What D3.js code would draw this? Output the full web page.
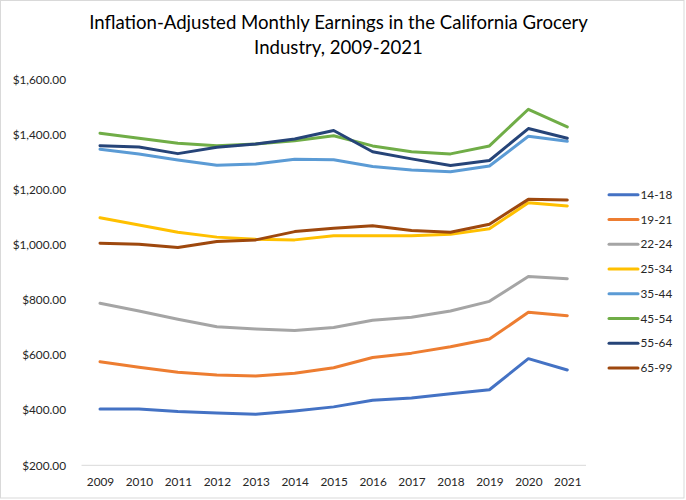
<!DOCTYPE html>
<html><head><meta charset="utf-8">
<script src="https://cdn.jsdelivr.net/npm/d3@7"></script>
<style>body{margin:0;background:#fff}svg{display:block}</style>
</head><body>
<script>
const years = [2009,2010,2011,2012,2013,2014,2015,2016,2017,2018,2019,2020,2021];
const seriesNames = ["14-18","19-21","22-24","25-34","35-44","45-54","55-64","65-99"];
const s14_18 = [404,404,395,390,385,397,412,436,444,460,474,587,546];
const s19_21 = [576,556,538,528,524,534,554,591,607,630,658,755,743];
const s22_24 = [788,760,730,703,695,689,700,726,737,760,795,885,877];
const s25_34 = [1098,1072,1046,1028,1020,1018,1033,1033,1033,1038,1058,1153,1141];
const s35_44 = [1347,1330,1308,1289,1293,1311,1309,1284,1272,1265,1286,1394,1376];
const s45_54 = [1405,1387,1369,1360,1366,1378,1396,1359,1338,1330,1359,1492,1428];
const s55_64 = [1360,1355,1331,1354,1366,1384,1415,1338,1312,1288,1306,1422,1387];
const s65_99 = [1006,1002,990,1012,1018,1048,1060,1069,1052,1046,1075,1165,1163];
const yTicks = [200,400,600,800,1000,1200,1400,1600];
const colors = ["#4472C4","#ED7D31","#A5A5A5","#FFC000","#5B9BD5","#70AD47","#264478","#9E480E"];
const allSeries = [s14_18,s19_21,s22_24,s25_34,s35_44,s45_54,s55_64,s65_99];

const W=686,H=500;
const svg=d3.select("body").append("svg").attr("width",W).attr("height",H);
svg.append("rect").attr("x",0.5).attr("y",0.5).attr("width",683.5).attr("height",497.5)
  .attr("fill","#fff").attr("stroke","#d9d9d9");

const font="Lato, 'Open Sans', sans-serif";
svg.append("text").attr("x",338.5).attr("y",29).attr("text-anchor","middle")
  .attr("font-family",font).attr("font-size",18.6).attr("fill","#000")
  .text("Inflation-Adjusted Monthly Earnings in the California Grocery");
svg.append("text").attr("x",338.5).attr("y",53.5).attr("text-anchor","middle")
  .attr("font-family",font).attr("font-size",18.6).attr("fill","#000")
  .text("Industry, 2009-2021");

const x=d3.scalePoint().domain(years).range([100,567.3]);
const y=d3.scaleLinear().domain([200,1600]).range([465.3,79.5]);

svg.append("line").attr("x1",81.5).attr("x2",586).attr("y1",y(200)).attr("y2",y(200))
  .attr("stroke","#d9d9d9").attr("stroke-width",1);

const yAxis=d3.axisLeft(y).tickValues(yTicks).tickSize(0).tickPadding(0)
  .tickFormat(d=>"$"+d3.format(",.2f")(d));
const gy=svg.append("g").attr("transform","translate(66,0)").call(yAxis);
gy.select(".domain").remove();
gy.selectAll("text").attr("font-family",font).attr("font-size",11.8).attr("fill","#262626");

const xAxis=d3.axisBottom(x).tickSize(0).tickPadding(0).tickFormat(d=>String(d));
const gx=svg.append("g").attr("transform","translate(0,477.5)").call(xAxis);
gx.select(".domain").remove();
gx.selectAll("text").attr("font-family",font).attr("font-size",11.8).attr("fill","#262626");

const line=d3.line().x((d,i)=>x(years[i])).y(d=>y(d));
allSeries.forEach((s,k)=>{
  svg.append("path").datum(s).attr("d",line).attr("fill","none")
    .attr("stroke",colors[k]).attr("stroke-width",3).attr("stroke-linejoin","round").attr("stroke-linecap","round");
});

const leg=svg.append("g");
seriesNames.forEach((n,k)=>{
  const ly=194.7+k*24.75;
  leg.append("line").attr("x1",609).attr("x2",638).attr("y1",ly).attr("y2",ly)
    .attr("stroke",colors[k]).attr("stroke-width",3).attr("stroke-linecap","round");
  leg.append("text").attr("x",640.5).attr("y",ly).attr("dy","0.35em")
    .attr("font-family",font).attr("font-size",11.8).attr("fill","#262626").text(n);
});
</script>
</body></html>
